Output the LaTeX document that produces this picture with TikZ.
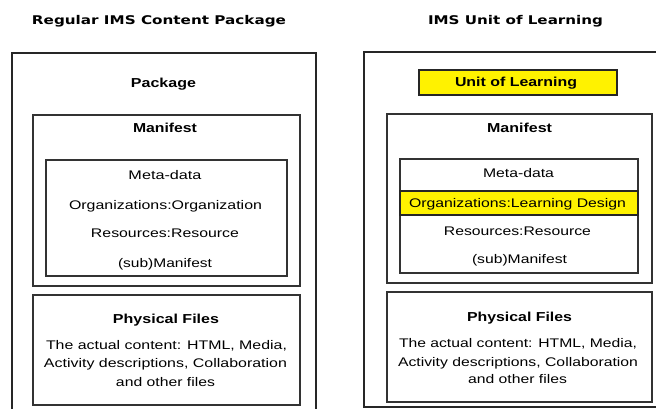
\documentclass[tikz,border=0pt]{standalone}
\usepackage{graphicx}
\usepackage{fontspec}
\setmainfont{Liberation Sans}
\newfontfamily\titlefont{DejaVu Sans}
\newcommand{\fw}[2]{\resizebox{#1pt}{\height}{#2}}
\tikzset{
  box/.style={draw=black!80, line width=1.1pt},
  outerbox/.style={draw=black!85, line width=1.1pt},
  hl/.style={draw=black!85, line width=1.1pt, fill=yellow},
  txt/.style={font=\fontsize{12.5}{14}\selectfont, inner sep=0pt, anchor=base},
  hd/.style={font=\bfseries\fontsize{13}{15}\selectfont, inner sep=0pt, anchor=base},
  ttl/.style={font=\titlefont\bfseries\fontsize{12}{14}\selectfont, inner sep=0pt, anchor=base},
}
\begin{document}
\begin{tikzpicture}[x=1pt,y=-1pt]
\clip (0,0) rectangle (656,409);
\fill[white] (0,0) rectangle (656,409);

% ---------- left: Regular IMS Content Package ----------
\node[ttl] (ltitle) at (159,25) {\fw{254}{Regular IMS Content Package}};
\draw[outerbox] (12,420) -- (12,53) -- (316,53) -- (316,420);
\node[hd] (lpkg) at (163.5,88) {\fw{65}{Package}};
\draw[box] (33,115) rectangle (300,286);
\node[hd] (lman) at (165,133) {\fw{64}{Manifest}};
\draw[box] (46,160) rectangle (287,276);
\node[txt] (lmeta) at (165,179) {\fw{73}{Meta-data}};
\node[txt] (lorg) at (165.5,209) {\fw{193}{Organizations:Organization}};
\node[txt] (lres) at (165,237) {\fw{148}{Resources:Resource}};
\node[txt] (lsub) at (165,267) {\fw{94}{(sub)Manifest}};
\draw[box] (33,295) rectangle (300,405);
\node[hd] (lphys) at (166,323) {\fw{106}{Physical Files}};
\node[txt] (lp1) at (166.5,349) {\fw{241}{The actual content: HTML, Media,}};
\node[txt] (lp2) at (165.5,367) {\fw{243}{Activity descriptions, Collaboration}};
\node[txt] (lp3) at (165.5,386) {\fw{99}{and other files}};

% ---------- right: IMS Unit of Learning ----------
\node[ttl] (rtitle) at (515.5,25) {\fw{175}{IMS Unit of Learning}};
\draw[outerbox] (364,52) rectangle (680,407);
\draw[hl] (419,70) rectangle (617,95);
\node[hd] (ruol) at (516,87) {\fw{122}{Unit of Learning}};
\draw[box] (387,114) rectangle (652,283);
\node[hd] (rman) at (519.5,133) {\fw{65}{Manifest}};
\draw[box] (400,159) rectangle (638,273);
\node[txt] (rmeta) at (518.5,178) {\fw{71}{Meta-data}};
\draw[hl] (400,191) rectangle (638,215);
\node[txt] (rorg) at (517.5,207) {\fw{217}{Organizations:Learning Design}};
\node[txt] (rres) at (517.5,235) {\fw{147}{Resources:Resource}};
\node[txt] (rsub) at (519.5,263) {\fw{95}{(sub)Manifest}};
\draw[box] (387,292) rectangle (652,402);
\node[hd] (rphys) at (519.5,321) {\fw{105}{Physical Files}};
\node[txt] (rp1) at (518,347) {\fw{238}{The actual content: HTML, Media,}};
\node[txt] (rp2) at (518,366) {\fw{240}{Activity descriptions, Collaboration}};
\node[txt] (rp3) at (517.5,383) {\fw{99}{and other files}};
\end{tikzpicture}
\end{document}
